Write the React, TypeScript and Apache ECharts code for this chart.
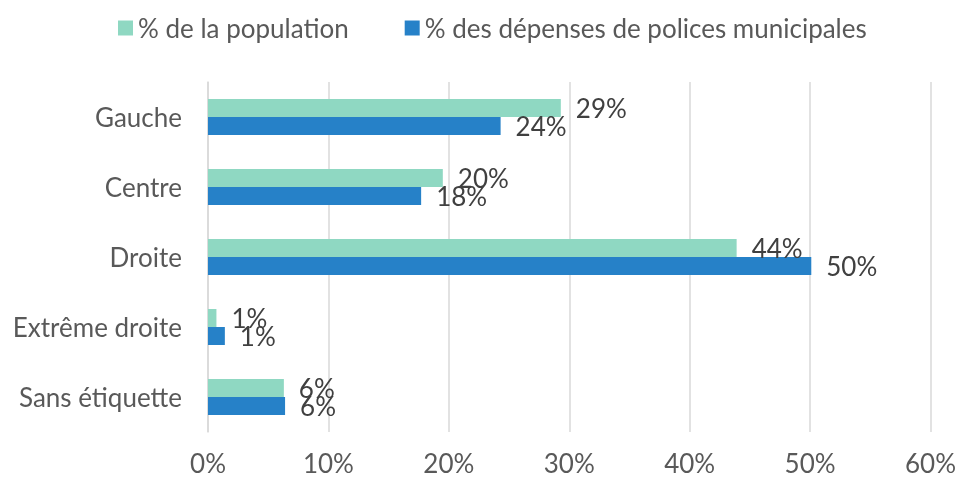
import React, { useEffect, useRef } from "react";
import * as echarts from "echarts";

const categories = ["Gauche", "Centre", "Droite", "Extrême droite", "Sans étiquette"];
const populationPct = [29.3, 19.5, 43.9, 0.7, 6.3];
const policePct = [24.3, 17.7, 50.1, 1.4, 6.4];
const populationLabels = ["29%", "20%", "44%", "1%", "6%"];
const policeLabels = ["24%", "18%", "50%", "1%", "6%"];
const seriesNames = ["% de la population", "% des dépenses de polices municipales"];

const FONT = "Lato, 'Noto Sans', sans-serif";
const FS = 26;

export default function App() {
  const ref = useRef<HTMLDivElement>(null);
  useEffect(() => {
    if (!ref.current) return;
    const chart = echarts.init(ref.current, undefined, { renderer: "svg" });
    chart.setOption({
      animation: false,
      textStyle: { fontFamily: FONT },
      legend: {
        top: 15,
        left: 118,
        padding: 0,
        itemWidth: 15,
        itemHeight: 15,
        itemGap: 56,
        icon: "rect",
        textStyle: { fontSize: FS, color: "#595959", fontFamily: FONT, padding: [0, 0, 0, 0] },
        data: seriesNames,
      },
      grid: { left: 208, right: 26, top: 82, bottom: 46, containLabel: false },
      xAxis: {
        type: "value",
        min: 0,
        max: 60,
        interval: 10,
        axisLine: { show: false },
        axisTick: { show: false },
        splitLine: { show: true, lineStyle: { color: "#D9D9D9", width: 1.5 } },
        axisLabel: {
          formatter: "{value}%",
          fontSize: FS,
          color: "#595959",
          margin: 18,
          fontFamily: FONT,
        },
      },
      yAxis: {
        type: "category",
        inverse: true,
        data: categories,
        axisLine: { show: true, lineStyle: { color: "#D9D9D9", width: 1.5 } },
        axisTick: { show: false },
        axisLabel: { fontSize: FS, color: "#595959", margin: 26, fontFamily: FONT },
      },
      series: [
        {
          name: seriesNames[0],
          type: "bar",
          data: populationPct,
          barWidth: 18,
          barGap: "0%",
          itemStyle: { color: "#8FD8C2" },
          label: {
            show: true,
            position: "right",
            distance: 15,
            fontSize: FS,
            color: "#404040",
            fontFamily: FONT,
            formatter: (p: any) => populationLabels[p.dataIndex],
          },
        },
        {
          name: seriesNames[1],
          type: "bar",
          data: policePct,
          barWidth: 18,
          itemStyle: { color: "#2681C8" },
          label: {
            show: true,
            position: "right",
            distance: 15,
            fontSize: FS,
            color: "#404040",
            fontFamily: FONT,
            formatter: (p: any) => policeLabels[p.dataIndex],
          },
        },
      ],
    });
    return () => chart.dispose();
  }, []);
  return (
    <div
      ref={ref}
      style={{ position: "fixed", left: 0, top: 0, width: 959, height: 478 }}
    />
  );
}
